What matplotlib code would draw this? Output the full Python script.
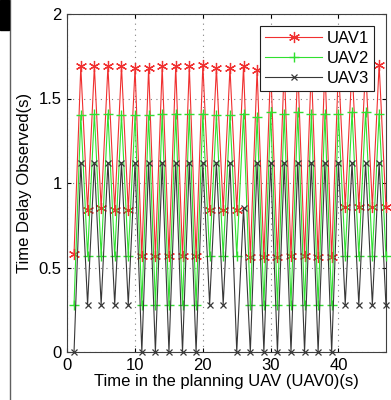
import numpy as np
import matplotlib.pyplot as plt
from matplotlib.patches import Rectangle
from matplotlib.lines import Line2D

plt.rcParams['font.family'] = ['Liberation Sans', 'DejaVu Sans']

# 时间轴 (s)
t = list(range(1, 48))

# UAV1 观测时延
uav1 = [0.58,
        1.69, 0.84, 1.69, 0.85, 1.69, 0.84, 1.69, 0.84, 1.68, 0.57,
        1.68, 0.57, 1.69, 0.57, 1.69, 0.57, 1.69, 0.57, 1.70, 0.84,
        1.68, 0.84, 1.68, 0.84, 1.69, 0.56, 1.67, 0.56, 1.69, 0.56,
        1.69, 0.57, 1.69, 0.57, 1.69, 0.56, 1.69, 0.56, 1.69, 0.86,
        1.69, 0.86, 1.69, 0.86, 1.70, 0.86]

# UAV2
uav2 = [0.28,
        1.40, 0.57, 1.41, 0.57, 1.41, 0.57, 1.40, 0.57, 1.40, 0.28,
        1.40, 0.28, 1.41, 0.28, 1.41, 0.28, 1.41, 0.28, 1.41, 0.57,
        1.40, 0.57, 1.40, 0.57, 1.41, 0.28, 1.39, 0.28, 1.42, 0.28,
        1.41, 0.28, 1.42, 0.28, 1.41, 0.28, 1.41, 0.28, 1.41, 0.57,
        1.42, 0.57, 1.42, 0.57, 1.41, 0.57]

# UAV3
uav3 = [0.0,
        1.12, 0.28, 1.12, 0.28, 1.12, 0.28, 1.12, 0.28, 1.12, 0.0,
        1.12, 0.0, 1.12, 0.0, 1.12, 0.0, 1.12, 0.0, 1.12, 0.28,
        1.12, 0.28, 1.12, 0.0, 0.85, 0.0, 1.12, 0.0, 1.12, 0.0,
        1.12, 0.0, 1.12, 0.0, 1.12, 0.0, 1.12, 0.0, 1.12, 0.28,
        1.12, 0.28, 1.12, 0.28, 1.12, 0.28]

xticks = [0, 10, 20, 30, 40]
yticks = [0, 0.5, 1, 1.5, 2]
ytick_labels = ['0', '0.5', '1', '1.5', '2']

fig = plt.figure(figsize=(3.91, 4.0), dpi=100)
ax = fig.add_axes([0.172, 0.12, 0.815, 0.845])

star = (6, 2, 0)
ax.plot(t, uav1, '-', marker=star, color='#f03030', lw=0.8, ms=8, mew=0.9, label='UAV1', clip_on=False, zorder=3)
ax.plot(t, uav2, '-+', color='#30e030', lw=0.8, ms=7, mew=1.0, label='UAV2', clip_on=False, zorder=3)
ax.plot(t, uav3, '-x', color='#383838', lw=0.8, ms=5, mew=0.9, label='UAV3', clip_on=False, zorder=4)

ax.set_xlim(0, 47)
ax.set_ylim(0, 2)
ax.set_xticks(xticks)
ax.set_xticklabels([str(v) for v in xticks])
ax.set_yticks(yticks)
ax.set_yticklabels(ytick_labels)
ax.tick_params(direction='in', length=3, labelsize=12, top=True, right=True, pad=4)
ax.grid(True, linestyle=(0, (1, 4)), color='#808080', lw=0.8)
ax.set_axisbelow(True)

for s in ax.spines.values():
    s.set_color('#404040')
    s.set_linewidth(0.8)

ax.set_xlabel('Time in the planning UAV (UAV0)(s)', fontsize=12, labelpad=1)
ax.set_ylabel('Time Delay Observed(s)', fontsize=12, labelpad=5)

leg = ax.legend(loc='upper right', fontsize=12, handlelength=3.4, fancybox=False,
                framealpha=1, edgecolor='#202020', borderaxespad=0.7,
                labelspacing=0.3, handletextpad=0.3, borderpad=0.3)
leg.get_frame().set_linewidth(0.8)

# 左上角的黑色块和竖线
fig.patches.append(Rectangle((0, 1 - 30 / 400), 9 / 391, 30 / 400, transform=fig.transFigure,
                             color='black', zorder=10))
fig.lines.append(Line2D([9.5 / 391, 9.5 / 391], [0, 1], transform=fig.transFigure,
                        color='#606060', lw=1.0))

plt.savefig('out.png', dpi=100)
